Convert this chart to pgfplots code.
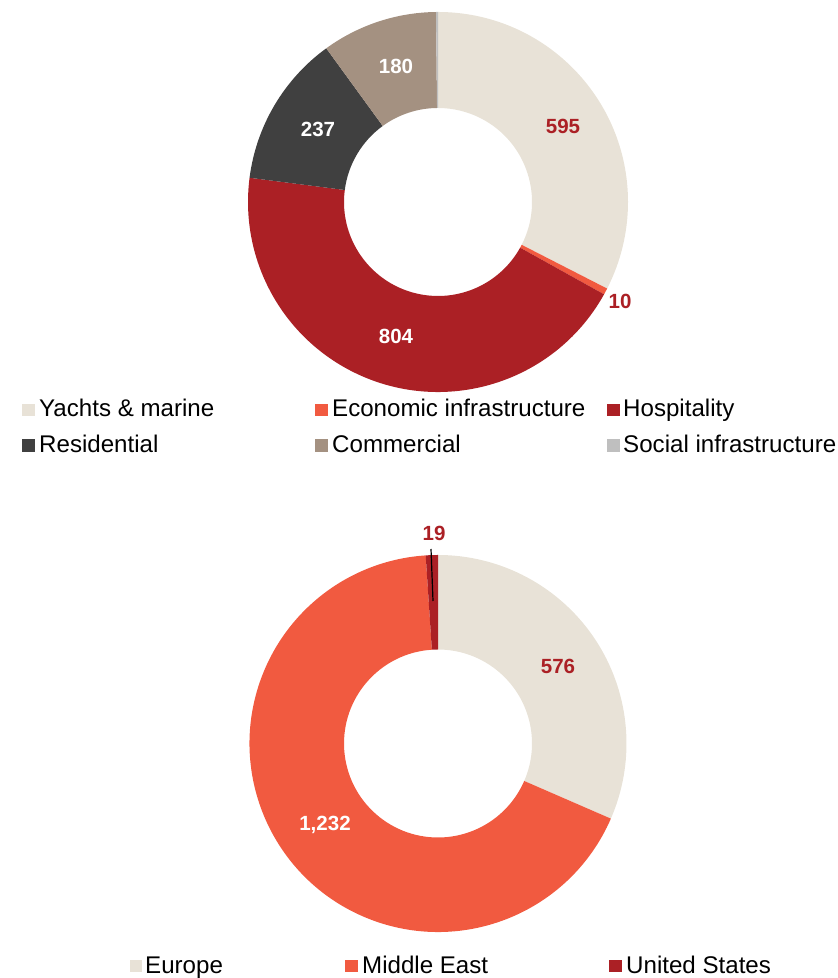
\documentclass[border=0pt]{standalone}
\usepackage{pgfplots}
\pgfplotsset{compat=1.18}
\usepackage{pgfplotstable}
\usepackage{fontspec}
\setmainfont{Liberation Sans}

\definecolor{cBeige}{HTML}{E8E2D7}
\definecolor{cOrange}{HTML}{F15A40}
\definecolor{cRed}{HTML}{AB2025}
\definecolor{cDark}{HTML}{404040}
\definecolor{cTaupe}{HTML}{A49181}
\definecolor{cGrey}{HTML}{BFBFBF}

% by sector
\pgfplotstableread{
value color
595 cBeige
10 cOrange
804 cRed
237 cDark
180 cTaupe
3 cGrey
}\sectors

% by region
\pgfplotstableread{
value color
576 cBeige
1232 cOrange
19 cRed
}\regions

% \donut{table}{cx}{cy}{R}{r}, clockwise from 12 o'clock
\newcommand\donut[5]{%
  \pgfplotstablegetrowsof{#1}%
  \pgfmathtruncatemacro\nrows{\pgfplotsretval-1}%
  \gdef\tot{0}%
  \foreach \i in {0,...,\nrows}{%
    \pgfplotstablegetelem{\i}{value}\of{#1}%
    \pgfmathsetmacro\tmp{\tot+\pgfplotsretval}%
    \xdef\tot{\tmp}}%
  \gdef\cum{0}%
  \foreach \i in {0,...,\nrows}{%
    \pgfplotstablegetelem{\i}{value}\of{#1}\let\val\pgfplotsretval
    \pgfplotstablegetelem{\i}{color}\of{#1}\let\col\pgfplotsretval
    \pgfmathsetmacro\angA{90-360*(\cum/\tot)}%
    \pgfmathsetmacro\angB{90-360*((\cum+\val)/\tot)}%
    \pgfmathsetmacro\xa{#2+#4*cos(\angA)}\pgfmathsetmacro\ya{#3+#4*sin(\angA)}%
    \pgfmathsetmacro\xb{#2+#5*cos(\angB)}\pgfmathsetmacro\yb{#3+#5*sin(\angB)}%
    \edef\seg{\noexpand\fill[\col] (axis cs:\xa,\ya) arc[start angle=\angA,end angle=\angB,radius=#4bp]
      -- (axis cs:\xb,\yb) arc[start angle=\angB,end angle=\angA,radius=#5bp] -- cycle;}%
    \seg
    \pgfmathsetmacro\tmp{\cum+\val}\xdef\cum{\tmp}}%
}

\tikzset{
  vlab/.style={font=\bfseries\fontsize{20.6}{24}\selectfont, inner sep=0pt},
  ltxt/.style={font=\fontsize{24.2}{28}\selectfont, anchor=base west, inner sep=0pt},
}

\begin{document}
\begin{tikzpicture}
\begin{axis}[hide axis, scale only axis, width=838bp, height=978bp,
    xmin=0, xmax=838, ymin=0, ymax=978, clip=false]
  \donut{\sectors}{438}{776}{190}{94}
  \donut{\regions}{438}{234.5}{188.5}{94}

  % value labels
  \node[vlab, text=cRed]  at (axis cs:563,852) {595};
  \node[vlab, text=cRed]  at (axis cs:620,677) {10};
  \node[vlab, text=white] at (axis cs:396,642) {804};
  \node[vlab, text=white] at (axis cs:318,848.5) {237};
  \node[vlab, text=white] at (axis cs:396,912) {180};
  \node[vlab, text=cRed]  at (axis cs:558,312) {576};
  \node[vlab, text=white] at (axis cs:325,153) {1,232};
  \node[vlab, text=cRed]  at (axis cs:434,445) {19};
  \draw[black, line width=1.2bp] (axis cs:431,429) -- (axis cs:433,377);

  % legend, top chart
  \fill[cBeige]  (axis cs:22,562) rectangle (axis cs:35,574);
  \node[ltxt] at (axis cs:39,561) {Yachts \& marine};
  \fill[cOrange] (axis cs:315,562) rectangle (axis cs:328,574);
  \node[ltxt] at (axis cs:332,561) {Economic infrastructure};
  \fill[cRed]    (axis cs:607,562) rectangle (axis cs:620,574);
  \node[ltxt] at (axis cs:623,561) {Hospitality};
  \fill[cDark]   (axis cs:22,526) rectangle (axis cs:35,539);
  \node[ltxt] at (axis cs:39,525) {Residential};
  \fill[cTaupe]  (axis cs:315,526) rectangle (axis cs:328,539);
  \node[ltxt] at (axis cs:332,525) {Commercial};
  \fill[cGrey]   (axis cs:607,526) rectangle (axis cs:620,539);
  \node[ltxt] at (axis cs:623,525) {Social infrastructure};

  % legend, bottom chart
  \fill[cBeige]  (axis cs:130,6) rectangle (axis cs:142,18);
  \node[ltxt] at (axis cs:145,5) {Europe};
  \fill[cOrange] (axis cs:345,6) rectangle (axis cs:358,18);
  \node[ltxt] at (axis cs:362,5) {Middle East};
  \fill[cRed]    (axis cs:609,6) rectangle (axis cs:622,18);
  \node[ltxt] at (axis cs:626,5) {United States};
\end{axis}
\pgfresetboundingbox
\path (0,0) rectangle (838bp,978bp);
\end{tikzpicture}
\end{document}
